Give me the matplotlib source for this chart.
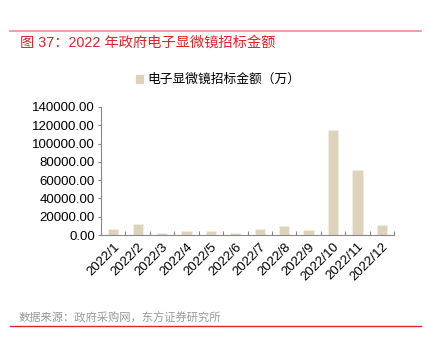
import matplotlib
matplotlib.use('Agg')
import matplotlib.pyplot as plt
from matplotlib.lines import Line2D
from matplotlib.patches import Patch
import numpy as np

plt.rcParams['font.family'] = ['Liberation Sans', 'Noto Sans CJK SC', 'DejaVu Sans']

# data
months = ['2022/1', '2022/2', '2022/3', '2022/4', '2022/5', '2022/6',
          '2022/7', '2022/8', '2022/9', '2022/10', '2022/11', '2022/12']
amounts = [6600, 11700, 2200, 4300, 4000, 2000,
           6600, 9800, 5800, 115000, 71000, 11300]
yticks = [0, 20000, 40000, 60000, 80000, 100000, 120000, 140000]

bar_color = '#ddd3bb'
red = '#e0242a'

fig = plt.figure(figsize=(4.3, 3.46), dpi=100)
ax = fig.add_axes([0.2349, 0.3208, 0.6814, 0.37])

x = np.arange(len(months))
ax.bar(x, amounts, width=0.42, color=bar_color, edgecolor='#f3eee2', linewidth=0.5)

ax.set_xlim(-0.5, len(months) - 0.5)
ax.set_ylim(0, 140000)
ax.set_yticks(yticks)
ax.set_yticklabels(['%.2f' % v for v in yticks], fontsize=9.5)
ax.set_xticks(x)
ax.set_xticklabels(months, rotation=45, ha='right', rotation_mode='anchor', fontsize=9.5)
ax.tick_params(axis='x', length=0, pad=4)
ax.set_xticks(np.arange(-0.5, len(months)), minor=True)
ax.tick_params(axis='x', which='minor', direction='in', length=3, color='#888888', width=0.8)
ax.tick_params(axis='y', direction='out', length=2.5, color='#888888', width=0.8, pad=2)

for s in ['top', 'right']:
    ax.spines[s].set_visible(False)
for s in ['left', 'bottom']:
    ax.spines[s].set_color('#888888')
    ax.spines[s].set_linewidth(0.8)

# legend
ax.legend(handles=[Patch(color=bar_color, label='电子显微镜招标金额（万）')],
          loc='center', bbox_to_anchor=(507 / 1000, 1 - 80 / 346), bbox_transform=fig.transFigure,
          frameon=False, fontsize=9.2, handlelength=0.6, handleheight=0.6, handletextpad=0.3)

# title and footer
fig.add_artist(Line2D([10 / 430, 421 / 430], [1 - 31 / 346] * 2, color='#ec8f8f', lw=1.2))
fig.text(20 / 430, 1 - 43 / 346, '图 37：2022 年政府电子显微镜招标金额', color=red,
         fontsize=10.3, fontweight='medium', va='center', ha='left')
fig.text(19 / 430, 1 - 318 / 346, '数据来源：政府采购网，东方证券研究所', color='#9a9a9a',
         fontsize=8.1, va='center', ha='left')
fig.add_artist(Line2D([10 / 430, 421 / 430], [1 - 326 / 346] * 2, color=red, lw=1.0))

fig.savefig('out.png', dpi=100)
